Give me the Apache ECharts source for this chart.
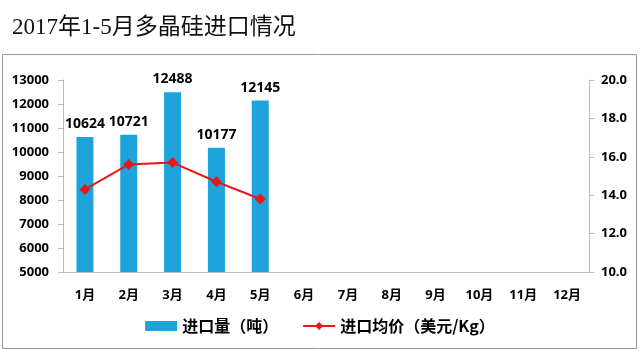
<!DOCTYPE html>
<html><head><meta charset="utf-8">
<script src="https://cdn.jsdelivr.net/npm/echarts@6/dist/echarts.min.js"></script>
<style>html,body{margin:0;padding:0;background:#fff}#c{width:640px;height:351px}</style>
</head><body><div id="c"></div>
<script>
const titleText = '2017年1-5月多晶硅进口情况';
const months = ['1月','2月','3月','4月','5月','6月','7月','8月','9月','10月','11月','12月'];
const importVolume = [10624, 10721, 12488, 10177, 12145];
const avgPrice = [14.3, 15.6, 15.7, 14.7, 13.8];
const volName = '进口量（吨）';
const priceName = '进口均价（美元/Kg）';

const chart = echarts.init(document.getElementById('c'));
const lblFont = {fontFamily:'"Open Sans","Noto Sans CJK SC",sans-serif', fontWeight:'bold', fontSize:13, color:'#000'};
chart.setOption({
  animation:false,
  graphic:[
    {type:'text', left:12, top:16, style:{text:titleText, font:'23px "Liberation Serif","Noto Sans CJK SC",serif', fill:'#111'}},
    {type:'rect', shape:{x:2.5,y:54.5,width:634,height:294}, style:{fill:'none', stroke:'#999', lineWidth:1}}
  ],
  grid:{left:63, right:51, top:80, bottom:79},
  legend:{
    bottom:12, left:'center', itemGap:24, itemWidth:32, itemHeight:10,
    textStyle:{fontFamily:'"Noto Sans CJK SC",sans-serif', fontWeight:'bold', fontSize:16, color:'#000'},
    data:[{name:volName, icon:'rect'}, {name:priceName}]
  },
  xAxis:{type:'category', data:months,
    axisLine:{lineStyle:{color:'#bbb'}}, axisTick:{show:false},
    axisLabel:Object.assign({margin:17, interval:0}, lblFont)},
  yAxis:[
    {type:'value', min:5000, max:13000, interval:1000, splitLine:{show:false},
     axisLine:{show:true, lineStyle:{color:'#bbb'}}, axisTick:{show:true, length:5, lineStyle:{color:'#bbb'}},
     axisLabel:Object.assign({margin:14, formatter:v=>String(v)}, lblFont)},
    {type:'value', min:10, max:20, interval:2, splitLine:{show:false},
     axisLine:{show:true, lineStyle:{color:'#bbb'}}, axisTick:{show:true, length:5, lineStyle:{color:'#bbb'}},
     axisLabel:Object.assign({margin:12, formatter:v=>v.toFixed(1)}, lblFont)}
  ],
  series:[
    {name:volName, type:'bar', data:importVolume, barWidth:17, itemStyle:{color:'#1FA3DB'},
     label:{show:true, position:'top', distance:6, fontFamily:'"Open Sans",sans-serif', fontWeight:'bold', fontSize:14, color:'#000'}},
    {name:priceName, type:'line', yAxisIndex:1, data:avgPrice, symbol:'diamond', symbolSize:11,
     itemStyle:{color:'#E3191C'}, lineStyle:{color:'#E3191C', width:2}}
  ]
});
</script></body></html>
